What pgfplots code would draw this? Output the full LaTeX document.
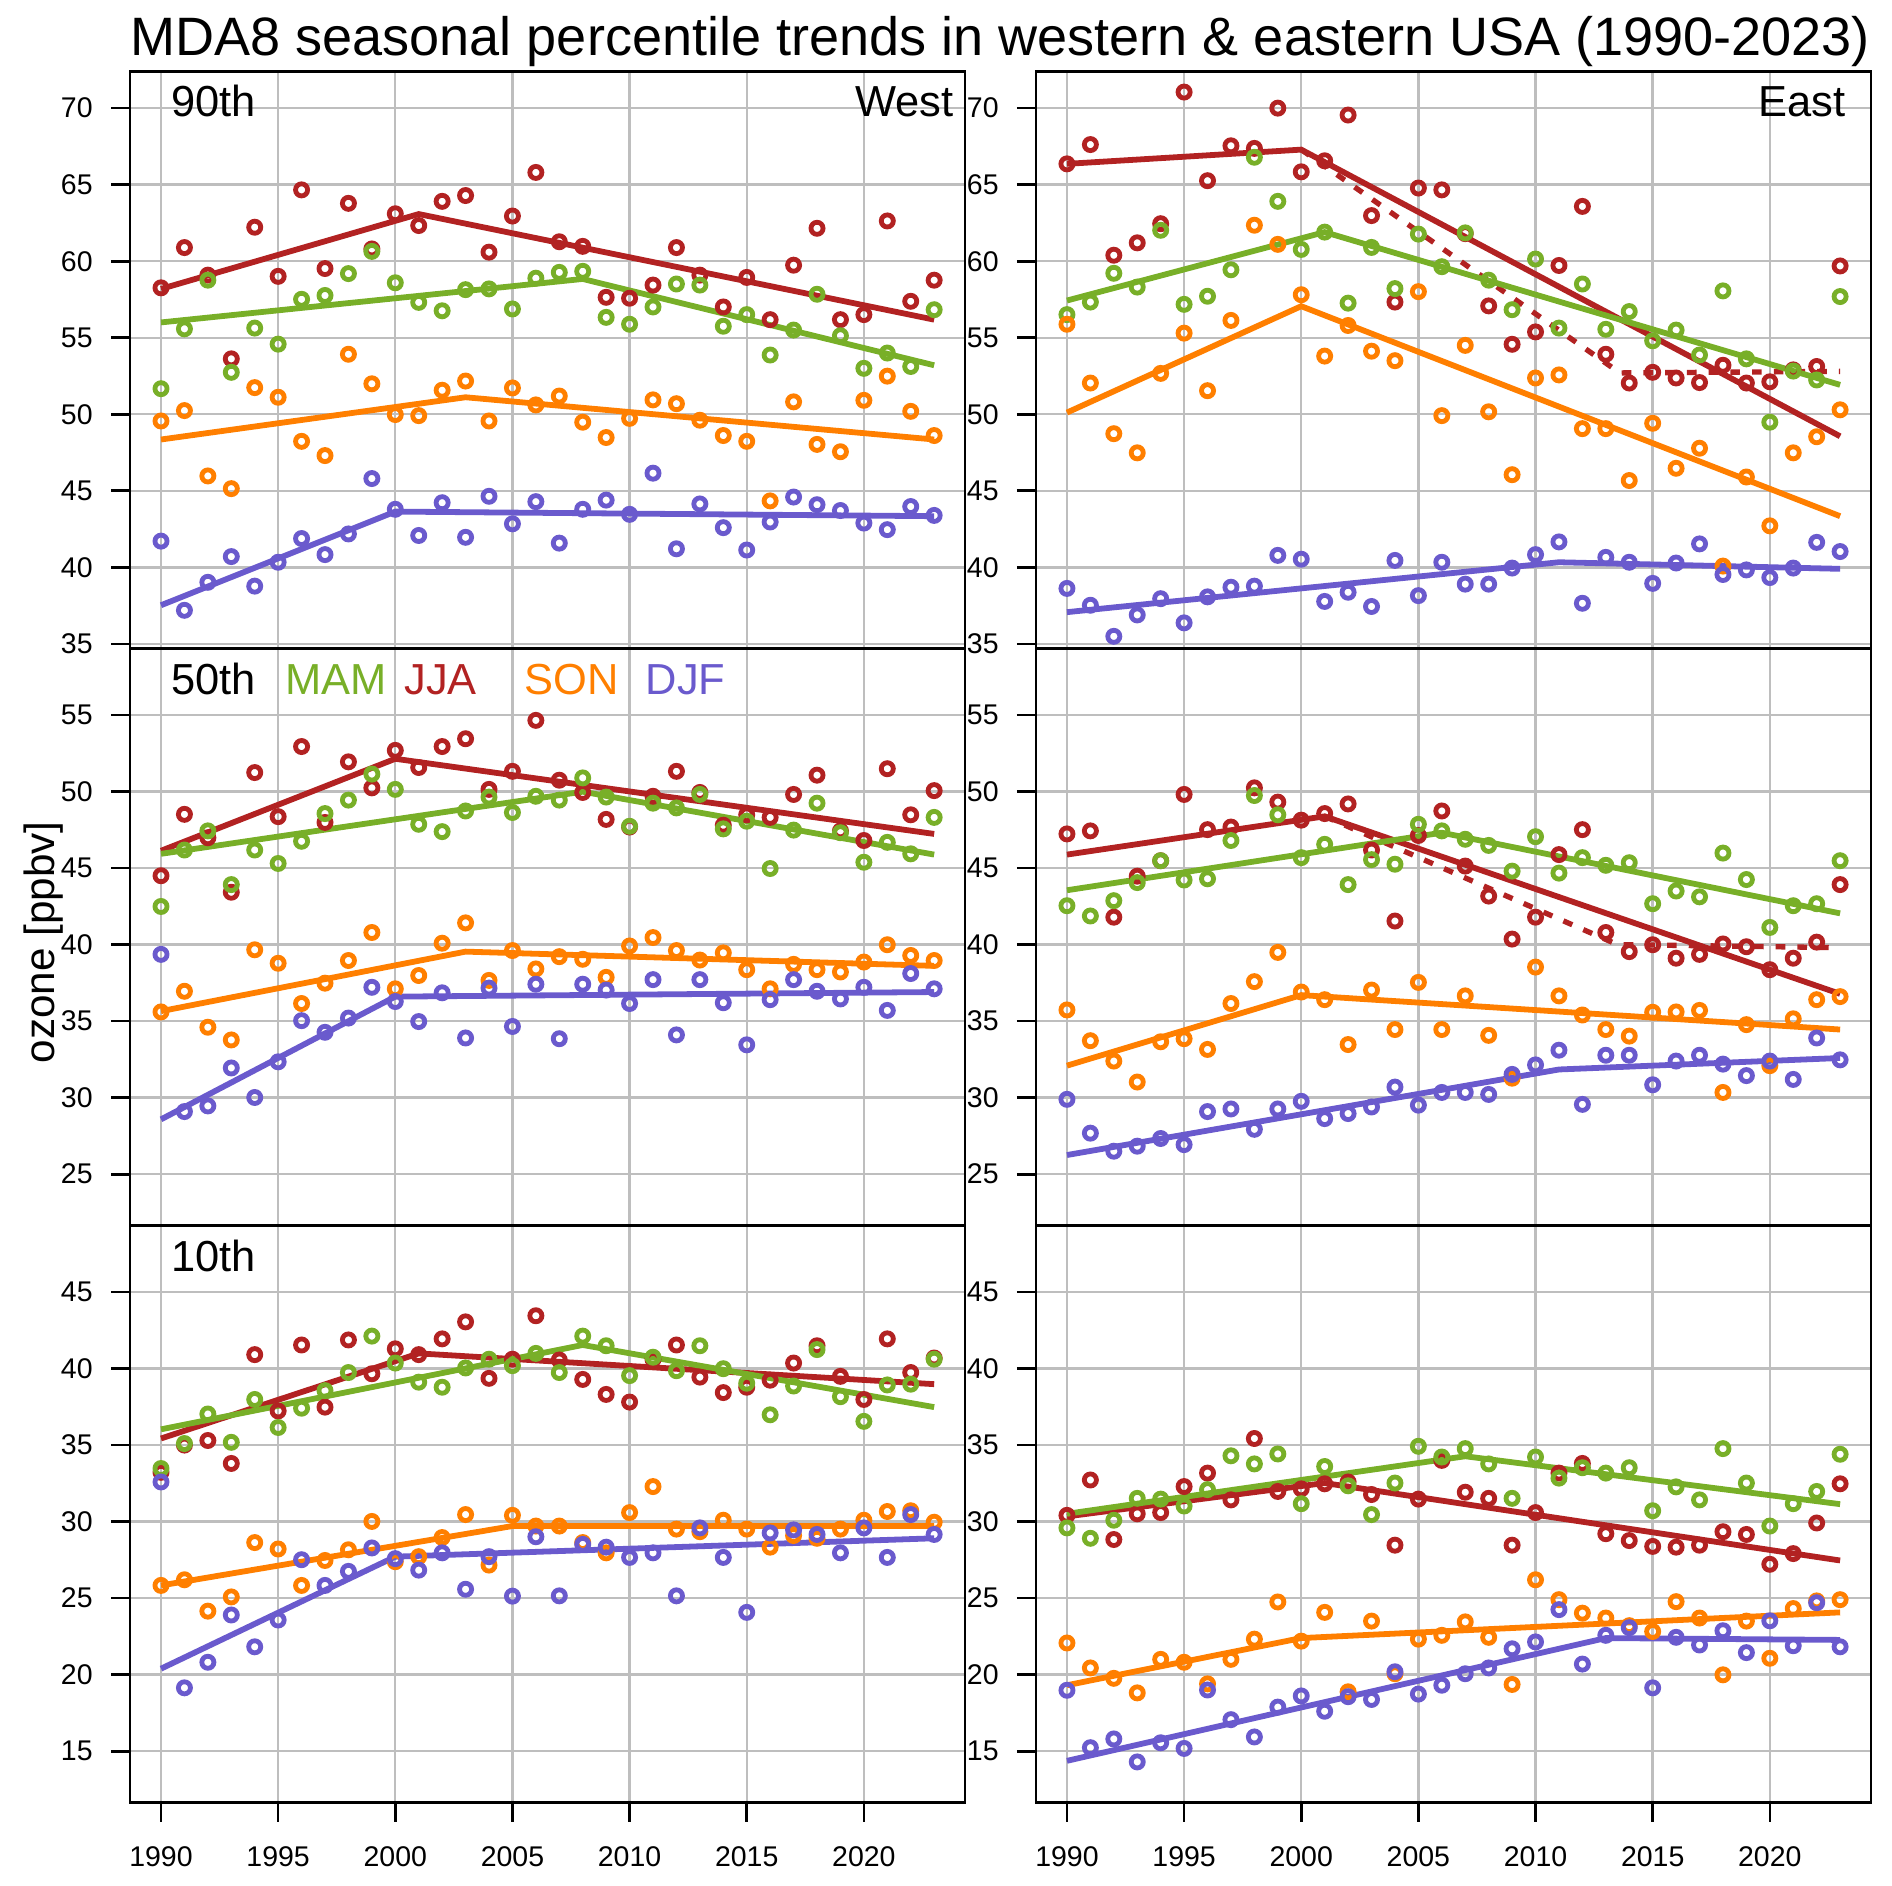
\documentclass[border=0pt]{standalone}
\usepackage{fontspec}
\setmainfont{Liberation Sans}
\usepackage{pgfplots}
\usepackage{pgfplotstable}
\pgfplotsset{compat=1.18}
\definecolor{cMAM}{RGB}{120,175,40}
\definecolor{cJJA}{RGB}{178,34,34}
\definecolor{cSON}{RGB}{255,127,0}
\definecolor{cDJF}{RGB}{106,90,205}
\definecolor{gridgray}{RGB}{190,190,190}
\newcommand{\tickfont}{\fontsize{11.8}{14}\selectfont}
\newcommand{\panelfont}{\fontsize{18}{21}\selectfont}

\pgfplotstableread{
year MAM JJA SON DJF
1990 51.67 58.26 49.56 41.71
1991 55.58 60.89 50.24 37.19
1992 58.76 59.09 45.97 39.02
1993 52.74 53.62 45.14 40.70
1994 55.63 62.22 51.74 38.77
1995 54.58 59.01 51.11 40.33
1996 57.51 64.66 48.23 41.88
1997 57.76 59.52 47.30 40.83
1998 59.19 63.78 53.92 42.18
1999 60.64 60.80 51.99 45.80
2000 58.59 63.10 49.98 43.79
2001 57.31 62.33 49.91 42.08
2002 56.76 63.91 51.57 44.22
2003 58.14 64.29 52.17 41.96
2004 58.19 60.59 49.56 44.64
2005 56.88 62.95 51.72 42.84
2006 58.89 65.80 50.61 44.29
2007 59.27 61.27 51.19 41.58
2008 59.34 60.97 49.48 43.79
2009 56.33 57.64 48.48 44.39
2010 55.88 57.58 49.73 43.46
2011 57.01 58.44 50.94 46.15
2012 58.51 60.89 50.69 41.21
2013 58.44 59.09 49.61 44.14
2014 55.75 57.01 48.61 42.59
2015 56.51 58.94 48.23 41.13
2016 53.87 56.18 44.34 42.96
2017 55.50 59.74 50.81 44.59
2018 57.84 62.15 48.03 44.09
2019 55.13 56.18 47.55 43.71
2020 53.00 56.51 50.91 42.89
2021 54.00 62.63 52.49 42.46
2022 53.12 57.38 50.19 43.97
2023 56.83 58.76 48.61 43.39
}\tWn

\pgfplotstableread{
year MAM JJA SON DJF
1990 56.51 66.36 55.88 38.62
1991 57.33 67.62 52.04 37.52
1992 59.21 60.39 48.73 35.49
1993 58.31 61.20 47.48 36.89
1994 62.02 62.45 52.67 37.95
1995 57.18 71.05 55.30 36.37
1996 57.71 65.26 51.54 38.07
1997 59.44 67.54 56.13 38.70
1998 66.79 67.37 62.35 38.77
1999 63.91 70.00 61.10 40.78
2000 60.77 65.84 57.81 40.53
2001 61.90 66.56 53.80 37.77
2002 57.26 69.55 55.80 38.37
2003 60.90 62.98 54.12 37.44
2004 58.21 57.33 53.50 40.45
2005 61.77 64.78 58.01 38.15
2006 59.64 64.66 49.91 40.33
2007 61.85 61.80 54.50 38.90
2008 58.76 57.08 50.16 38.90
2009 56.83 54.57 46.05 39.95
2010 60.14 55.38 52.37 40.83
2011 55.63 59.72 52.57 41.66
2012 58.51 63.58 49.06 37.65
2013 55.55 53.92 49.06 40.65
2014 56.71 52.04 45.67 40.33
2015 54.80 52.74 49.41 38.95
2016 55.50 52.37 46.47 40.28
2017 53.87 52.07 47.78 41.53
2018 58.06 53.20 40.08 39.53
2019 53.62 52.04 45.90 39.83
2020 49.48 52.12 42.71 39.33
2021 52.82 52.90 47.48 39.95
2022 52.24 53.12 48.53 41.63
2023 57.69 59.69 50.29 41.03
}\tEn

\pgfplotstableread{
year MAM JJA SON DJF
1990 42.49 44.50 35.60 39.36
1991 46.18 48.51 36.95 29.09
1992 47.43 46.98 34.60 29.46
1993 43.92 43.42 33.77 31.94
1994 46.18 51.24 39.66 30.01
1995 45.30 48.36 38.78 32.34
1996 46.75 52.94 36.15 35.03
1997 48.56 47.98 37.48 34.27
1998 49.44 51.94 38.96 35.20
1999 51.14 50.24 40.79 37.21
2000 50.14 52.69 37.11 36.28
2001 47.86 51.57 37.98 34.97
2002 47.38 52.94 40.09 36.85
2003 48.73 53.45 41.42 33.90
2004 49.64 50.14 37.66 37.16
2005 48.63 51.32 39.61 34.65
2006 49.69 54.65 38.41 37.41
2007 49.44 50.74 39.21 33.85
2008 50.89 49.94 39.04 37.41
2009 49.64 48.18 37.86 37.03
2010 47.73 47.68 39.91 36.15
2011 49.24 49.69 40.46 37.71
2012 48.93 51.32 39.61 34.10
2013 49.81 49.94 38.99 37.71
2014 47.56 47.80 39.46 36.20
2015 48.06 48.48 38.36 33.45
2016 44.97 48.31 37.11 36.40
2017 47.48 49.81 38.71 37.71
2018 49.24 51.07 38.36 36.95
2019 47.31 47.43 38.21 36.45
2020 45.38 46.80 38.86 37.21
2021 46.68 51.49 39.99 35.70
2022 45.93 48.48 39.29 38.11
2023 48.31 50.06 38.96 37.11
}\tWm

\pgfplotstableread{
year MAM JJA SON DJF
1990 42.54 47.23 35.73 29.89
1991 41.87 47.43 33.72 27.68
1992 42.87 41.79 32.39 26.50
1993 44.05 44.47 31.02 26.83
1994 45.48 45.48 33.65 27.33
1995 44.22 49.81 33.85 26.93
1996 44.30 47.51 33.15 29.09
1997 46.80 47.68 36.15 29.26
1998 49.74 50.24 37.58 27.93
1999 48.48 49.31 39.49 29.26
2000 45.68 48.13 36.90 29.76
2001 46.55 48.56 36.40 28.63
2002 43.92 49.19 33.47 28.96
2003 45.55 46.18 37.03 29.39
2004 45.25 41.54 34.45 30.69
2005 47.86 47.13 37.53 29.51
2006 47.43 48.73 34.45 30.34
2007 46.88 45.13 36.65 30.34
2008 46.48 43.17 34.07 30.21
2009 44.80 40.36 31.27 31.52
2010 47.05 41.79 38.53 32.14
2011 44.67 45.88 36.65 33.10
2012 45.68 47.51 35.40 29.56
2013 45.18 40.79 34.45 32.77
2014 45.35 39.54 34.02 32.77
2015 42.67 39.99 35.58 30.84
2016 43.50 39.11 35.60 32.39
2017 43.12 39.36 35.70 32.77
2018 45.98 40.04 30.34 32.19
2019 44.25 39.86 34.77 31.44
2020 41.12 38.36 32.09 32.39
2021 42.54 39.11 35.15 31.19
2022 42.67 40.16 36.40 33.90
2023 45.48 43.92 36.60 32.47
}\tEm

\pgfplotstableread{
year MAM JJA SON DJF
1990 33.47 33.22 25.83 32.59
1991 35.10 35.00 26.20 19.14
1992 37.03 35.30 24.15 20.81
1993 35.18 33.80 25.08 23.90
1994 37.98 40.91 28.63 21.82
1995 36.15 37.23 28.21 23.57
1996 37.41 41.54 25.83 27.51
1997 38.56 37.48 27.46 25.83
1998 39.74 41.87 28.16 26.75
1999 42.12 39.66 30.01 28.28
2000 40.36 41.29 27.38 27.58
2001 39.11 40.91 27.71 26.83
2002 38.78 41.94 28.96 27.96
2003 40.04 43.05 30.46 25.58
2004 40.61 39.36 27.16 27.71
2005 40.19 40.61 30.41 25.13
2006 40.99 43.45 29.71 29.01
2007 39.74 40.56 29.71 25.15
2008 42.12 39.29 28.63 28.51
2009 41.49 38.31 27.96 28.33
2010 39.54 37.81 30.59 27.66
2011 40.74 40.60 32.29 27.96
2012 39.86 41.54 29.51 25.15
2013 41.49 39.44 29.34 29.59
2014 39.99 38.43 30.09 27.66
2015 39.04 38.78 29.51 24.07
2016 36.98 39.24 28.33 29.26
2017 38.86 40.36 29.09 29.46
2018 41.24 41.49 28.91 29.16
2019 38.16 39.49 29.51 27.96
2020 36.55 37.98 30.09 29.59
2021 38.93 41.94 30.66 27.66
2022 38.98 39.74 30.71 30.46
2023 40.61 40.69 29.96 29.16
}\tWb

\pgfplotstableread{
year MAM JJA SON DJF
1990 29.59 30.41 22.07 18.98
1991 28.91 32.72 20.44 15.23
1992 30.09 28.83 19.76 15.80
1993 31.52 30.51 18.81 14.30
1994 31.47 30.59 21.00 15.55
1995 31.02 32.29 20.81 15.18
1996 32.09 33.17 19.40 19.00
1997 34.30 31.42 21.00 17.06
1998 33.77 35.43 22.32 15.93
1999 34.42 31.97 24.75 17.88
2000 31.17 32.14 22.19 18.61
2001 33.60 32.47 24.07 17.61
2002 32.34 32.59 18.88 18.56
2003 30.46 31.77 23.50 18.38
2004 32.52 28.46 20.06 20.19
2005 34.92 31.47 22.32 18.73
2006 34.22 34.00 22.57 19.31
2007 34.77 31.92 23.45 20.06
2008 33.77 31.52 22.44 20.44
2009 31.52 28.46 19.36 21.69
2010 34.22 30.59 26.20 22.14
2011 32.84 33.17 24.90 24.25
2012 33.52 33.80 24.02 20.69
2013 33.17 29.21 23.70 22.57
2014 33.52 28.76 23.20 23.07
2015 30.71 28.38 22.82 19.14
2016 32.27 28.33 24.77 22.44
2017 31.42 28.46 23.70 21.94
2018 34.77 29.34 19.99 22.87
2019 32.52 29.16 23.50 21.44
2020 29.71 27.21 21.07 23.52
2021 31.17 27.91 24.32 21.89
2022 31.97 29.91 24.82 24.70
2023 34.40 32.47 24.90 21.82
}\tEb

\pgfplotsset{
  panel/.style={
    scale only axis, width=346pt, height=239.1pt,
    anchor=south west,
    xmin=1988.68, xmax=2024.32,
    xtick={1990,1995,2000,2005,2010,2015,2020},
    xticklabels={1990,1995,2000,2005,2010,2015,2020},
    grid=major,
    major grid style={line width=1pt, draw=gridgray},
    axis line style={line width=1.1pt, black},
    tick style={line width=1.1pt, black},
    major tick length=7.9pt,
    tick align=outside,
    xtick pos=bottom, ytick pos=left,
    ticklabel style={font=\tickfont},
    /pgf/number format/assume math mode=true,
    yticklabel style={anchor=east, inner sep=0pt, xshift=-7.4pt},
    xticklabel style={anchor=north, inner sep=0pt, yshift=-10.3pt},
  },
  upper/.style={xmajorticks=false, xticklabels={}},
  pts/.style={only marks, mark=o, mark size=2.5pt, mark options={line width=2pt, solid}},
  trend/.style={line width=2.4pt, no marks},
  row1/.style={ymin=34.7, ymax=72.4, ytick={35,40,...,70}},
  row2/.style={ymin=21.65, ymax=59.35, ytick={25,30,...,55}},
  row3/.style={ymin=11.65, ymax=49.35, ytick={15,20,...,45}},
}
\newcommand{\pointsof}[1]{%
  \addplot[pts, cJJA] table[x=year, y=JJA] {#1};
  \addplot[pts, cMAM] table[x=year, y=MAM] {#1};
  \addplot[pts, cSON] table[x=year, y=SON] {#1};
  \addplot[pts, cDJF] table[x=year, y=DJF] {#1};
}

\begin{document}
\begin{tikzpicture}
\useasboundingbox (0,0) rectangle (784pt,781.5pt);

% ---------- top left: West 90th
\begin{axis}[panel, upper, row1, at={(53.9pt,512.8pt)}]
\pointsof{\tWn}
\addplot[trend, cJJA] coordinates {(1990,58.19) (2001,63.08) (2023,56.18)};
\addplot[trend, cMAM] coordinates {(1990,56.0) (2008,58.84) (2023,53.2)};
\addplot[trend, cSON] coordinates {(1990,48.35) (2003,51.11) (2023,48.35)};
\addplot[trend, cDJF] coordinates {(1990,37.52) (2000,43.64) (2023,43.34)};
\node[anchor=base west, inner sep=0pt, font=\panelfont] at (rel axis cs:0.0485,0.921) {90th};
\node[anchor=base east, inner sep=0pt, font=\panelfont] at (rel axis cs:0.987,0.921) {West};
\end{axis}

% ---------- top right: East 90th
\begin{axis}[panel, upper, row1, at={(429.3pt,512.8pt)}]
\pointsof{\tEn}
\addplot[trend, cJJA] coordinates {(1990,66.36) (2000,67.29) (2023,48.56)};
\addplot[trend, cJJA, line width=2.2pt, dash pattern=on 4pt off 5pt] coordinates {(2000,67.29) (2013.6,52.7) (2023,52.8)};
\addplot[trend, cMAM] coordinates {(1990,57.43) (2001,61.90) (2023,51.92)};
\addplot[trend, cSON] coordinates {(1990,50.11) (2000,57.06) (2023,43.34)};
\addplot[trend, cDJF] coordinates {(1990,37.07) (2011,40.33) (2023,39.90)};
\node[anchor=base east, inner sep=0pt, font=\panelfont] at (rel axis cs:0.970,0.921) {East};
\end{axis}

% ---------- middle left: West 50th
\begin{axis}[panel, upper, row2, at={(53.9pt,273.7pt)}]
\pointsof{\tWm}
\addplot[trend, cJJA] coordinates {(1990,46.13) (2000,52.14) (2023,47.23)};
\addplot[trend, cMAM] coordinates {(1990,45.93) (2008,49.99) (2023,45.88)};
\addplot[trend, cSON] coordinates {(1990,35.65) (2003,39.54) (2023,38.61)};
\addplot[trend, cDJF] coordinates {(1990,28.58) (2000,36.60) (2023,36.90)};
\node[anchor=base west, inner sep=0pt, font=\panelfont] at (rel axis cs:0.0485,0.921) {50th};
\node[anchor=base west, inner sep=0pt, font=\panelfont, text=cMAM] at (rel axis cs:0.185,0.921) {MAM};
\node[anchor=base west, inner sep=0pt, font=\panelfont, text=cJJA] at (rel axis cs:0.328,0.921) {JJA};
\node[anchor=base west, inner sep=0pt, font=\panelfont, text=cSON] at (rel axis cs:0.472,0.921) {SON};
\node[anchor=base west, inner sep=0pt, font=\panelfont, text=cDJF] at (rel axis cs:0.617,0.921) {DJF};
\end{axis}

% ---------- middle right: East 50th
\begin{axis}[panel, upper, row2, at={(429.3pt,273.7pt)}]
\pointsof{\tEm}
\addplot[trend, cJJA] coordinates {(1990,45.88) (2001,48.38) (2023,36.78)};
\addplot[trend, cJJA, line width=2.2pt, dash pattern=on 4pt off 5pt] coordinates {(2001,48.38) (2013.5,40.0) (2023,39.8)};
\addplot[trend, cMAM] coordinates {(1990,43.55) (2006,47.31) (2023,42.04)};
\addplot[trend, cSON] coordinates {(1990,32.09) (2000,36.70) (2023,34.45)};
\addplot[trend, cDJF] coordinates {(1990,26.25) (2011,31.84) (2023,32.59)};
\end{axis}

% ---------- bottom left: West 10th
\begin{axis}[panel, row3, at={(53.9pt,34.6pt)}]
\pointsof{\tWb}
\addplot[trend, cJJA] coordinates {(1990,35.43) (2001,40.99) (2023,38.98)};
\addplot[trend, cMAM] coordinates {(1990,36.03) (2008,41.54) (2023,37.48)};
\addplot[trend, cSON] coordinates {(1990,25.83) (2005,29.71) (2023,29.71)};
\addplot[trend, cDJF] coordinates {(1990,20.39) (2000,27.71) (2023,28.91)};
\node[anchor=base west, inner sep=0pt, font=\panelfont] at (rel axis cs:0.0485,0.921) {10th};
\end{axis}

% ---------- bottom right: East 10th
\begin{axis}[panel, row3, at={(429.3pt,34.6pt)}]
\pointsof{\tEb}
\addplot[trend, cJJA] coordinates {(1990,30.34) (2001,32.52) (2023,27.46)};
\addplot[trend, cMAM] coordinates {(1990,30.51) (2007,34.27) (2023,31.14)};
\addplot[trend, cSON] coordinates {(1990,19.31) (2000,22.39) (2023,24.07)};
\addplot[trend, cDJF] coordinates {(1990,14.37) (2013,22.39) (2023,22.27)};
\end{axis}

\node[anchor=base, inner sep=0pt, font=\fontsize{22.4}{26}\selectfont] at (414.5pt,758.5pt)
  {MDA8 seasonal percentile trends in western \& eastern USA (1990-2023)};
\node[anchor=base, rotate=90, inner sep=0pt, font=\fontsize{17.5}{20}\selectfont] at (22.5pt,391pt) {ozone [ppbv]};
\end{tikzpicture}
\end{document}
